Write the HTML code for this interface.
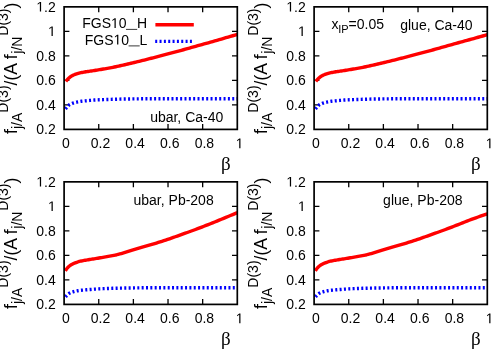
<!DOCTYPE html>
<html>
<head>
<meta charset="utf-8">
<title>Nuclear diffractive PDF ratios</title>
<style>
html, body { margin: 0; padding: 0; background: #ffffff; }
body { width: 500px; height: 349px; overflow: hidden; font-family: "Liberation Sans", sans-serif; }
svg { display: block; will-change: transform; }
</style>
</head>
<body>
<svg width="500" height="349" viewBox="0 0 500 349">
<rect x="0" y="0" width="500" height="349" fill="#ffffff"/>
<g transform="translate(0,0)">
<path d="M98.74,129.4v-5.3M98.74,6.85v5.3M133.38,129.4v-5.3M133.38,6.85v5.3M168.02,129.4v-5.3M168.02,6.85v5.3M202.66,129.4v-5.3M202.66,6.85v5.3M64.1,104.89h5.3M237.3,104.89h-5.3M64.1,80.38h5.3M237.3,80.38h-5.3M64.1,55.87h5.3M237.3,55.87h-5.3M64.1,31.36h5.3M237.3,31.36h-5.3" fill="none" stroke="#000" stroke-width="1.3"/>
<path d="M65.90,81.40 L65.98,81.29 L66.15,81.07 L66.37,80.78 L66.65,80.43 L66.98,80.03 L67.34,79.60 L67.74,79.16 L68.18,78.70 L68.65,78.26 L69.16,77.81 L69.70,77.37 L70.26,76.92 L70.86,76.50 L71.48,76.09 L72.14,75.73 L72.81,75.38 L73.52,75.05 L74.25,74.72 L75.00,74.41 L75.78,74.11 L76.58,73.83 L77.41,73.57 L78.26,73.33 L79.13,73.10 L80.02,72.89 L80.93,72.69 L81.87,72.50 L82.83,72.31 L83.80,72.13 L84.80,71.96 L85.82,71.80 L86.86,71.65 L87.92,71.50 L88.99,71.35 L90.09,71.19 L91.21,71.01 L92.34,70.84 L93.49,70.65 L94.66,70.47 L95.85,70.28 L97.06,70.08 L98.28,69.88 L99.53,69.68 L100.79,69.47 L102.06,69.26 L103.36,69.05 L104.67,68.83 L106.00,68.61 L107.34,68.38 L108.70,68.14 L110.08,67.88 L111.48,67.62 L112.89,67.33 L114.31,67.04 L115.76,66.73 L117.21,66.41 L118.69,66.09 L120.18,65.76 L121.68,65.43 L123.20,65.08 L124.74,64.73 L126.29,64.37 L127.86,64.00 L129.44,63.63 L131.03,63.26 L132.64,62.88 L134.27,62.49 L135.91,62.09 L137.56,61.69 L139.23,61.29 L140.92,60.88 L142.61,60.46 L144.32,60.03 L146.05,59.60 L147.79,59.16 L149.54,58.72 L151.31,58.27 L153.09,57.82 L154.89,57.36 L156.70,56.90 L158.52,56.43 L160.36,55.96 L162.21,55.47 L164.07,54.98 L165.95,54.48 L167.84,53.98 L169.74,53.47 L171.66,52.96 L173.59,52.44 L175.53,51.92 L177.48,51.39 L179.45,50.85 L181.43,50.30 L183.43,49.75 L185.43,49.18 L187.45,48.62 L189.49,48.04 L191.53,47.47 L193.59,46.90 L195.66,46.32 L197.74,45.73 L199.84,45.15 L201.94,44.56 L204.06,43.97 L206.19,43.37 L208.34,42.77 L210.49,42.16 L212.66,41.55 L214.84,40.93 L217.03,40.30 L219.24,39.67 L221.46,39.03 L223.68,38.39 L225.92,37.74 L228.18,37.08 L230.44,36.42 L232.71,35.75 L235.00,35.08 L237.30,34.40" fill="none" stroke="#ff0000" stroke-width="3.4" stroke-linejoin="round"/>
<path d="M65.40,108.90 L65.48,108.81 L65.65,108.62 L65.88,108.36 L66.15,108.05 L66.48,107.68 L66.84,107.25 L67.25,106.77 L67.69,106.25 L68.16,105.75 L68.67,105.30 L69.21,104.92 L69.78,104.57 L70.37,104.24 L71.00,103.93 L71.65,103.64 L72.33,103.37 L73.04,103.12 L73.77,102.88 L74.53,102.65 L75.31,102.44 L76.11,102.24 L76.94,102.05 L77.79,101.88 L78.67,101.71 L79.56,101.55 L80.48,101.41 L81.42,101.27 L82.38,101.15 L83.36,101.04 L84.36,100.94 L85.38,100.84 L86.42,100.74 L87.48,100.63 L88.56,100.53 L89.66,100.43 L90.78,100.33 L91.92,100.24 L93.07,100.14 L94.25,100.06 L95.44,99.99 L96.65,99.92 L97.88,99.86 L99.12,99.80 L100.39,99.75 L101.67,99.70 L102.97,99.64 L104.28,99.59 L105.61,99.55 L106.96,99.50 L108.33,99.45 L109.71,99.41 L111.11,99.37 L112.52,99.32 L113.95,99.28 L115.40,99.23 L116.86,99.19 L118.34,99.15 L119.84,99.11 L121.35,99.07 L122.87,99.04 L124.41,99.01 L125.97,98.99 L127.54,98.96 L129.12,98.94 L130.72,98.92 L132.34,98.90 L133.97,98.88 L135.61,98.86 L137.27,98.85 L138.95,98.83 L140.63,98.81 L142.34,98.80 L144.05,98.79 L145.78,98.78 L147.53,98.77 L149.29,98.76 L151.06,98.75 L152.85,98.75 L154.65,98.74 L156.46,98.74 L158.29,98.73 L160.13,98.73 L161.99,98.72 L163.86,98.72 L165.74,98.71 L167.63,98.71 L169.54,98.71 L171.47,98.71 L173.40,98.70 L175.35,98.70 L177.31,98.70 L179.28,98.70 L181.27,98.70 L183.27,98.70 L185.28,98.70 L187.31,98.70 L189.35,98.70 L191.40,98.70 L193.46,98.70 L195.54,98.70 L197.63,98.70 L199.73,98.70 L201.84,98.70 L203.97,98.70 L206.10,98.70 L208.25,98.70 L210.42,98.70 L212.59,98.70 L214.78,98.70 L216.98,98.70 L219.19,98.70 L221.41,98.70 L223.64,98.70 L225.89,98.70 L228.15,98.70 L230.42,98.70 L232.70,98.70 L234.99,98.70 L237.30,98.70" fill="none" stroke="#0000ff" stroke-width="3.4" stroke-dasharray="2.0 2.34" stroke-linejoin="round"/>
<rect x="64.1" y="6.85" width="173.20" height="122.55" fill="none" stroke="#000" stroke-width="1.7"/>
<g font-family="Liberation Sans, sans-serif" font-size="14.0" fill="#000">
<text x="65.80" y="148.20" text-anchor="middle">0</text>
<text x="100.44" y="148.20" text-anchor="middle">0.2</text>
<text x="135.08" y="148.20" text-anchor="middle">0.4</text>
<text x="169.72" y="148.20" text-anchor="middle">0.6</text>
<text x="204.36" y="148.20" text-anchor="middle">0.8</text>
<polygon points="239.23,148.20 239.23,139.74 237.05,141.30 237.05,140.13 239.33,138.57 240.46,138.57 240.46,148.20"/>
<text x="55.80" y="134.10" text-anchor="end">0.2</text>
<text x="55.80" y="109.59" text-anchor="end">0.4</text>
<text x="55.80" y="85.08" text-anchor="end">0.6</text>
<text x="55.80" y="60.57" text-anchor="end">0.8</text>
<polygon points="51.53,36.06 51.53,27.60 49.36,29.16 49.36,27.99 51.64,26.43 52.77,26.43 52.77,36.06"/>
<polygon points="39.86,11.55 39.86,3.09 37.68,4.65 37.68,3.48 39.96,1.92 41.10,1.92 41.10,11.55"/><text x="44.12" y="11.55">.2</text>
<text x="223.3" y="121.6" text-anchor="end">ubar, Ca-40</text>
<text x="82.20" y="28.00">FGS</text><polygon points="114.50,28.00 114.50,19.54 112.33,21.10 112.33,19.93 114.60,18.37 115.74,18.37 115.74,28.00"/><text x="118.77" y="28.00">0</text><text x="136.9" y="28.0">H</text>
<text x="84.80" y="44.50">FGS</text><polygon points="117.10,44.50 117.10,36.04 114.93,37.60 114.93,36.43 117.20,34.87 118.34,34.87 118.34,44.50"/><text x="121.37" y="44.50">0</text><text x="139.6" y="44.5">L</text>
<path d="M126,29.4H137.2M128.6,45.9H139.7" stroke="#222" stroke-width="0.9" fill="none"/>
</g>
<path d="M155.4,24.7H193.8" stroke="#ff0000" stroke-width="3.4" fill="none"/>
<path d="M155.2,41.4H193" stroke="#0000ff" stroke-width="3.4" stroke-dasharray="2.0 2.34" fill="none"/>
<text x="225.8" y="169.6" text-anchor="middle" font-family="Liberation Serif, serif" font-size="19" fill="#000">&#946;</text>
<g transform="translate(0,133.9) rotate(-90)" font-family="Liberation Sans, sans-serif" fill="#000">
<text x="0" y="0" font-size="17.5"><tspan y="17.0">f</tspan><tspan y="22.0" font-size="14.0">j/A</tspan><tspan y="7.5" font-size="14.0">D(3)</tspan><tspan y="17.0">/(A f</tspan><tspan y="22.0" font-size="14.0" dx="0.7">j/N</tspan><tspan y="7.5" font-size="14.0" dx="0.8">D(3)</tspan><tspan y="17.0">)</tspan></text>
</g>
</g>
<g transform="translate(250,0)">
<path d="M98.74,129.4v-5.3M98.74,6.85v5.3M133.38,129.4v-5.3M133.38,6.85v5.3M168.02,129.4v-5.3M168.02,6.85v5.3M202.66,129.4v-5.3M202.66,6.85v5.3M64.1,104.89h5.3M237.3,104.89h-5.3M64.1,80.38h5.3M237.3,80.38h-5.3M64.1,55.87h5.3M237.3,55.87h-5.3M64.1,31.36h5.3M237.3,31.36h-5.3" fill="none" stroke="#000" stroke-width="1.3"/>
<path d="M65.90,81.40 L65.98,81.29 L66.15,81.07 L66.37,80.78 L66.65,80.43 L66.98,80.03 L67.34,79.60 L67.74,79.16 L68.18,78.70 L68.65,78.26 L69.16,77.81 L69.70,77.37 L70.26,76.92 L70.86,76.50 L71.48,76.09 L72.14,75.73 L72.81,75.38 L73.52,75.05 L74.25,74.72 L75.00,74.41 L75.78,74.11 L76.58,73.83 L77.41,73.57 L78.26,73.33 L79.13,73.10 L80.02,72.89 L80.93,72.69 L81.87,72.50 L82.83,72.31 L83.80,72.13 L84.80,71.96 L85.82,71.80 L86.86,71.65 L87.92,71.50 L88.99,71.35 L90.09,71.19 L91.21,71.01 L92.34,70.84 L93.49,70.65 L94.66,70.47 L95.85,70.28 L97.06,70.08 L98.28,69.88 L99.53,69.68 L100.79,69.47 L102.06,69.26 L103.36,69.05 L104.67,68.83 L106.00,68.61 L107.34,68.38 L108.70,68.14 L110.08,67.88 L111.48,67.62 L112.89,67.33 L114.31,67.04 L115.76,66.73 L117.21,66.41 L118.69,66.09 L120.18,65.76 L121.68,65.43 L123.20,65.08 L124.74,64.73 L126.29,64.37 L127.86,64.00 L129.44,63.63 L131.03,63.26 L132.64,62.88 L134.27,62.49 L135.91,62.09 L137.56,61.69 L139.23,61.29 L140.92,60.88 L142.61,60.46 L144.32,60.03 L146.05,59.60 L147.79,59.16 L149.54,58.72 L151.31,58.27 L153.09,57.82 L154.89,57.36 L156.70,56.90 L158.52,56.43 L160.36,55.96 L162.21,55.47 L164.07,54.98 L165.95,54.48 L167.84,53.98 L169.74,53.47 L171.66,52.96 L173.59,52.44 L175.53,51.92 L177.48,51.39 L179.45,50.85 L181.43,50.30 L183.43,49.75 L185.43,49.18 L187.45,48.62 L189.49,48.04 L191.53,47.47 L193.59,46.90 L195.66,46.32 L197.74,45.73 L199.84,45.15 L201.94,44.56 L204.06,43.96 L206.19,43.36 L208.34,42.76 L210.49,42.16 L212.66,41.57 L214.84,40.97 L217.03,40.37 L219.24,39.76 L221.46,39.15 L223.68,38.52 L225.92,37.89 L228.18,37.26 L230.44,36.63 L232.71,35.99 L235.00,35.35 L237.30,34.70" fill="none" stroke="#ff0000" stroke-width="3.4" stroke-linejoin="round"/>
<path d="M65.40,108.90 L65.48,108.81 L65.65,108.62 L65.88,108.36 L66.15,108.05 L66.48,107.68 L66.84,107.25 L67.25,106.77 L67.69,106.25 L68.16,105.75 L68.67,105.30 L69.21,104.92 L69.78,104.57 L70.37,104.24 L71.00,103.93 L71.65,103.64 L72.33,103.37 L73.04,103.12 L73.77,102.88 L74.53,102.65 L75.31,102.44 L76.11,102.24 L76.94,102.05 L77.79,101.88 L78.67,101.71 L79.56,101.55 L80.48,101.41 L81.42,101.27 L82.38,101.15 L83.36,101.04 L84.36,100.94 L85.38,100.84 L86.42,100.74 L87.48,100.63 L88.56,100.53 L89.66,100.43 L90.78,100.33 L91.92,100.24 L93.07,100.14 L94.25,100.06 L95.44,99.99 L96.65,99.92 L97.88,99.86 L99.12,99.80 L100.39,99.75 L101.67,99.70 L102.97,99.64 L104.28,99.59 L105.61,99.55 L106.96,99.50 L108.33,99.45 L109.71,99.41 L111.11,99.37 L112.52,99.32 L113.95,99.28 L115.40,99.23 L116.86,99.19 L118.34,99.15 L119.84,99.11 L121.35,99.07 L122.87,99.04 L124.41,99.01 L125.97,98.99 L127.54,98.96 L129.12,98.94 L130.72,98.92 L132.34,98.90 L133.97,98.88 L135.61,98.86 L137.27,98.85 L138.95,98.83 L140.63,98.81 L142.34,98.80 L144.05,98.79 L145.78,98.78 L147.53,98.77 L149.29,98.76 L151.06,98.75 L152.85,98.75 L154.65,98.74 L156.46,98.74 L158.29,98.73 L160.13,98.73 L161.99,98.72 L163.86,98.72 L165.74,98.71 L167.63,98.71 L169.54,98.71 L171.47,98.71 L173.40,98.70 L175.35,98.70 L177.31,98.70 L179.28,98.70 L181.27,98.70 L183.27,98.70 L185.28,98.70 L187.31,98.70 L189.35,98.70 L191.40,98.70 L193.46,98.70 L195.54,98.70 L197.63,98.70 L199.73,98.70 L201.84,98.70 L203.97,98.70 L206.10,98.70 L208.25,98.70 L210.42,98.70 L212.59,98.70 L214.78,98.70 L216.98,98.70 L219.19,98.70 L221.41,98.70 L223.64,98.70 L225.89,98.70 L228.15,98.70 L230.42,98.70 L232.70,98.70 L234.99,98.70 L237.30,98.70" fill="none" stroke="#0000ff" stroke-width="3.4" stroke-dasharray="2.0 2.34" stroke-linejoin="round"/>
<rect x="64.1" y="6.85" width="173.20" height="122.55" fill="none" stroke="#000" stroke-width="1.7"/>
<g font-family="Liberation Sans, sans-serif" font-size="14.0" fill="#000">
<text x="65.80" y="148.20" text-anchor="middle">0</text>
<text x="100.44" y="148.20" text-anchor="middle">0.2</text>
<text x="135.08" y="148.20" text-anchor="middle">0.4</text>
<text x="169.72" y="148.20" text-anchor="middle">0.6</text>
<text x="204.36" y="148.20" text-anchor="middle">0.8</text>
<polygon points="239.23,148.20 239.23,139.74 237.05,141.30 237.05,140.13 239.33,138.57 240.46,138.57 240.46,148.20"/>
<text x="55.80" y="134.10" text-anchor="end">0.2</text>
<text x="55.80" y="109.59" text-anchor="end">0.4</text>
<text x="55.80" y="85.08" text-anchor="end">0.6</text>
<text x="55.80" y="60.57" text-anchor="end">0.8</text>
<polygon points="51.53,36.06 51.53,27.60 49.36,29.16 49.36,27.99 51.64,26.43 52.77,26.43 52.77,36.06"/>
<polygon points="39.86,11.55 39.86,3.09 37.68,4.65 37.68,3.48 39.96,1.92 41.10,1.92 41.10,11.55"/><text x="44.12" y="11.55">.2</text>
<text x="81.6" y="29.2">x<tspan font-size="11" dy="3.4" dx="-0.4">IP</tspan><tspan dy="-3.4" dx="-0.2">=</tspan><tspan dx="0.15">0.05</tspan></text>
<text x="222.6" y="29.6" text-anchor="end">glue, Ca-40</text>
</g>
<text x="225.8" y="169.6" text-anchor="middle" font-family="Liberation Serif, serif" font-size="19" fill="#000">&#946;</text>
<g transform="translate(0,133.9) rotate(-90)" font-family="Liberation Sans, sans-serif" fill="#000">
<text x="0" y="0" font-size="17.5"><tspan y="17.0">f</tspan><tspan y="22.0" font-size="14.0">j/A</tspan><tspan y="7.5" font-size="14.0">D(3)</tspan><tspan y="17.0">/(A f</tspan><tspan y="22.0" font-size="14.0" dx="0.7">j/N</tspan><tspan y="7.5" font-size="14.0" dx="0.8">D(3)</tspan><tspan y="17.0">)</tspan></text>
</g>
</g>
<g transform="translate(0,175)">
<path d="M98.74,129.4v-5.3M98.74,6.85v5.3M133.38,129.4v-5.3M133.38,6.85v5.3M168.02,129.4v-5.3M168.02,6.85v5.3M202.66,129.4v-5.3M202.66,6.85v5.3M64.1,104.89h5.3M237.3,104.89h-5.3M64.1,80.38h5.3M237.3,80.38h-5.3M64.1,55.87h5.3M237.3,55.87h-5.3M64.1,31.36h5.3M237.3,31.36h-5.3" fill="none" stroke="#000" stroke-width="1.3"/>
<path d="M65.30,95.90 L65.38,95.77 L65.55,95.52 L65.78,95.17 L66.06,94.76 L66.38,94.30 L66.74,93.80 L67.15,93.28 L67.59,92.75 L68.06,92.23 L68.57,91.74 L69.11,91.26 L69.68,90.80 L70.28,90.36 L70.90,89.94 L71.56,89.55 L72.24,89.17 L72.94,88.83 L73.68,88.50 L74.43,88.19 L75.22,87.89 L76.02,87.59 L76.85,87.29 L77.70,86.99 L78.57,86.70 L79.47,86.44 L80.39,86.21 L81.33,86.00 L82.29,85.80 L83.27,85.61 L84.27,85.43 L85.29,85.25 L86.33,85.08 L87.39,84.90 L88.47,84.72 L89.58,84.54 L90.69,84.37 L91.83,84.19 L92.99,84.02 L94.16,83.83 L95.36,83.64 L96.57,83.44 L97.80,83.23 L99.04,83.01 L100.31,82.80 L101.59,82.58 L102.89,82.36 L104.21,82.13 L105.54,81.90 L106.89,81.67 L108.25,81.42 L109.64,81.17 L111.04,80.90 L112.45,80.63 L113.88,80.34 L115.33,80.04 L116.79,79.72 L118.27,79.36 L119.77,78.97 L121.28,78.55 L122.80,78.10 L124.34,77.64 L125.90,77.18 L127.47,76.69 L129.06,76.19 L130.66,75.68 L132.28,75.17 L133.91,74.67 L135.55,74.17 L137.21,73.67 L138.89,73.18 L140.58,72.68 L142.28,72.19 L144.00,71.71 L145.73,71.23 L147.48,70.73 L149.24,70.22 L151.01,69.70 L152.80,69.16 L154.60,68.60 L156.42,68.04 L158.25,67.46 L160.09,66.87 L161.94,66.27 L163.81,65.67 L165.70,65.04 L167.59,64.41 L169.50,63.77 L171.43,63.11 L173.36,62.44 L175.31,61.76 L177.27,61.07 L179.25,60.37 L181.24,59.66 L183.24,58.94 L185.25,58.22 L187.28,57.49 L189.32,56.75 L191.37,56.00 L193.44,55.24 L195.51,54.48 L197.60,53.70 L199.70,52.91 L201.82,52.11 L203.95,51.28 L206.08,50.45 L208.24,49.60 L210.40,48.74 L212.58,47.87 L214.76,46.99 L216.96,46.09 L219.18,45.19 L221.40,44.28 L223.64,43.35 L225.88,42.42 L228.14,41.48 L230.41,40.53 L232.70,39.56 L234.99,38.59 L237.30,37.60" fill="none" stroke="#ff0000" stroke-width="3.4" stroke-linejoin="round"/>
<path d="M65.50,121.90 L65.58,121.80 L65.75,121.61 L65.98,121.35 L66.25,121.05 L66.58,120.72 L66.94,120.37 L67.35,119.97 L67.79,119.56 L68.26,119.13 L68.77,118.71 L69.31,118.33 L69.87,118.01 L70.47,117.72 L71.10,117.45 L71.75,117.20 L72.43,116.97 L73.14,116.76 L73.87,116.56 L74.62,116.36 L75.40,116.19 L76.21,116.02 L77.04,115.86 L77.89,115.72 L78.76,115.58 L79.65,115.46 L80.57,115.35 L81.51,115.24 L82.47,115.13 L83.45,115.03 L84.45,114.93 L85.47,114.84 L86.51,114.76 L87.57,114.68 L88.65,114.61 L89.75,114.54 L90.86,114.46 L92.00,114.37 L93.16,114.27 L94.33,114.17 L95.52,114.08 L96.73,114.00 L97.96,113.93 L99.21,113.86 L100.47,113.80 L101.75,113.73 L103.05,113.67 L104.36,113.61 L105.69,113.56 L107.04,113.50 L108.40,113.45 L109.79,113.41 L111.18,113.36 L112.60,113.32 L114.03,113.28 L115.47,113.25 L116.93,113.21 L118.41,113.18 L119.90,113.14 L121.41,113.11 L122.94,113.08 L124.48,113.06 L126.03,113.03 L127.60,113.01 L129.18,112.98 L130.78,112.96 L132.40,112.94 L134.03,112.91 L135.67,112.89 L137.33,112.87 L139.00,112.85 L140.69,112.83 L142.39,112.81 L144.11,112.79 L145.84,112.78 L147.58,112.77 L149.34,112.76 L151.11,112.75 L152.90,112.74 L154.70,112.74 L156.51,112.73 L158.34,112.73 L160.18,112.73 L162.03,112.72 L163.90,112.72 L165.78,112.71 L167.68,112.71 L169.58,112.71 L171.50,112.71 L173.44,112.70 L175.38,112.70 L177.34,112.70 L179.32,112.70 L181.30,112.70 L183.30,112.70 L185.31,112.70 L187.34,112.70 L189.37,112.70 L191.42,112.70 L193.49,112.70 L195.56,112.70 L197.65,112.70 L199.75,112.70 L201.86,112.70 L203.98,112.70 L206.12,112.70 L208.27,112.70 L210.43,112.70 L212.60,112.70 L214.79,112.70 L216.99,112.70 L219.20,112.70 L221.42,112.70 L223.65,112.70 L225.90,112.70 L228.15,112.70 L230.42,112.70 L232.70,112.70 L235.00,112.70 L237.30,112.70" fill="none" stroke="#0000ff" stroke-width="3.4" stroke-dasharray="2.0 2.34" stroke-linejoin="round"/>
<rect x="64.1" y="6.85" width="173.20" height="122.55" fill="none" stroke="#000" stroke-width="1.7"/>
<g font-family="Liberation Sans, sans-serif" font-size="14.0" fill="#000">
<text x="65.80" y="148.20" text-anchor="middle">0</text>
<text x="100.44" y="148.20" text-anchor="middle">0.2</text>
<text x="135.08" y="148.20" text-anchor="middle">0.4</text>
<text x="169.72" y="148.20" text-anchor="middle">0.6</text>
<text x="204.36" y="148.20" text-anchor="middle">0.8</text>
<polygon points="239.23,148.20 239.23,139.74 237.05,141.30 237.05,140.13 239.33,138.57 240.46,138.57 240.46,148.20"/>
<text x="55.80" y="134.10" text-anchor="end">0.2</text>
<text x="55.80" y="109.59" text-anchor="end">0.4</text>
<text x="55.80" y="85.08" text-anchor="end">0.6</text>
<text x="55.80" y="60.57" text-anchor="end">0.8</text>
<polygon points="51.53,36.06 51.53,27.60 49.36,29.16 49.36,27.99 51.64,26.43 52.77,26.43 52.77,36.06"/>
<polygon points="39.86,11.55 39.86,3.09 37.68,4.65 37.68,3.48 39.96,1.92 41.10,1.92 41.10,11.55"/><text x="44.12" y="11.55">.2</text>
<text x="213.7" y="30.0" text-anchor="end">ubar, Pb-208</text>
</g>
<text x="225.8" y="169.6" text-anchor="middle" font-family="Liberation Serif, serif" font-size="19" fill="#000">&#946;</text>
<g transform="translate(0,133.9) rotate(-90)" font-family="Liberation Sans, sans-serif" fill="#000">
<text x="0" y="0" font-size="17.5"><tspan y="17.0">f</tspan><tspan y="22.0" font-size="14.0">j/A</tspan><tspan y="7.5" font-size="14.0">D(3)</tspan><tspan y="17.0">/(A f</tspan><tspan y="22.0" font-size="14.0" dx="0.7">j/N</tspan><tspan y="7.5" font-size="14.0" dx="0.8">D(3)</tspan><tspan y="17.0">)</tspan></text>
</g>
</g>
<g transform="translate(250,175)">
<path d="M98.74,129.4v-5.3M98.74,6.85v5.3M133.38,129.4v-5.3M133.38,6.85v5.3M168.02,129.4v-5.3M168.02,6.85v5.3M202.66,129.4v-5.3M202.66,6.85v5.3M64.1,104.89h5.3M237.3,104.89h-5.3M64.1,80.38h5.3M237.3,80.38h-5.3M64.1,55.87h5.3M237.3,55.87h-5.3M64.1,31.36h5.3M237.3,31.36h-5.3" fill="none" stroke="#000" stroke-width="1.3"/>
<path d="M65.30,95.90 L65.38,95.77 L65.55,95.52 L65.78,95.17 L66.06,94.76 L66.38,94.30 L66.74,93.80 L67.15,93.28 L67.59,92.75 L68.06,92.23 L68.57,91.74 L69.11,91.26 L69.68,90.80 L70.28,90.36 L70.90,89.94 L71.56,89.55 L72.24,89.17 L72.94,88.83 L73.68,88.50 L74.43,88.19 L75.22,87.89 L76.02,87.59 L76.85,87.29 L77.70,86.99 L78.57,86.70 L79.47,86.44 L80.39,86.21 L81.33,86.00 L82.29,85.80 L83.27,85.61 L84.27,85.43 L85.29,85.25 L86.33,85.08 L87.39,84.90 L88.47,84.72 L89.58,84.54 L90.69,84.37 L91.83,84.19 L92.99,84.02 L94.16,83.83 L95.36,83.64 L96.57,83.44 L97.80,83.23 L99.04,83.01 L100.31,82.80 L101.59,82.58 L102.89,82.36 L104.21,82.13 L105.54,81.90 L106.89,81.67 L108.25,81.42 L109.64,81.17 L111.04,80.90 L112.45,80.63 L113.88,80.34 L115.33,80.04 L116.79,79.72 L118.27,79.36 L119.77,78.97 L121.28,78.55 L122.80,78.10 L124.34,77.64 L125.90,77.18 L127.47,76.69 L129.06,76.19 L130.66,75.68 L132.28,75.17 L133.91,74.67 L135.55,74.17 L137.21,73.67 L138.89,73.18 L140.58,72.68 L142.28,72.19 L144.00,71.71 L145.73,71.23 L147.48,70.73 L149.24,70.22 L151.01,69.70 L152.80,69.16 L154.60,68.60 L156.42,68.04 L158.25,67.46 L160.09,66.87 L161.94,66.27 L163.81,65.67 L165.70,65.04 L167.59,64.41 L169.50,63.77 L171.43,63.11 L173.36,62.44 L175.31,61.76 L177.27,61.07 L179.25,60.37 L181.24,59.66 L183.24,58.94 L185.25,58.22 L187.28,57.49 L189.32,56.75 L191.37,56.00 L193.44,55.24 L195.51,54.48 L197.60,53.70 L199.70,52.91 L201.82,52.10 L203.95,51.28 L206.08,50.44 L208.24,49.59 L210.40,48.74 L212.58,47.88 L214.76,47.00 L216.96,46.12 L219.18,45.26 L221.40,44.43 L223.64,43.61 L225.88,42.80 L228.14,42.00 L230.41,41.21 L232.70,40.43 L234.99,39.66 L237.30,38.90" fill="none" stroke="#ff0000" stroke-width="3.4" stroke-linejoin="round"/>
<path d="M65.50,121.90 L65.58,121.80 L65.75,121.61 L65.98,121.35 L66.25,121.05 L66.58,120.72 L66.94,120.37 L67.35,119.97 L67.79,119.56 L68.26,119.13 L68.77,118.71 L69.31,118.33 L69.87,118.01 L70.47,117.72 L71.10,117.45 L71.75,117.20 L72.43,116.97 L73.14,116.76 L73.87,116.56 L74.62,116.36 L75.40,116.19 L76.21,116.02 L77.04,115.86 L77.89,115.72 L78.76,115.58 L79.65,115.46 L80.57,115.35 L81.51,115.24 L82.47,115.13 L83.45,115.03 L84.45,114.93 L85.47,114.84 L86.51,114.76 L87.57,114.68 L88.65,114.61 L89.75,114.54 L90.86,114.46 L92.00,114.37 L93.16,114.27 L94.33,114.17 L95.52,114.08 L96.73,114.00 L97.96,113.93 L99.21,113.86 L100.47,113.80 L101.75,113.73 L103.05,113.67 L104.36,113.61 L105.69,113.56 L107.04,113.50 L108.40,113.45 L109.79,113.41 L111.18,113.36 L112.60,113.32 L114.03,113.28 L115.47,113.25 L116.93,113.21 L118.41,113.18 L119.90,113.14 L121.41,113.11 L122.94,113.08 L124.48,113.06 L126.03,113.03 L127.60,113.01 L129.18,112.98 L130.78,112.96 L132.40,112.94 L134.03,112.91 L135.67,112.89 L137.33,112.87 L139.00,112.85 L140.69,112.83 L142.39,112.81 L144.11,112.79 L145.84,112.78 L147.58,112.77 L149.34,112.76 L151.11,112.75 L152.90,112.74 L154.70,112.74 L156.51,112.73 L158.34,112.73 L160.18,112.73 L162.03,112.72 L163.90,112.72 L165.78,112.71 L167.68,112.71 L169.58,112.71 L171.50,112.71 L173.44,112.70 L175.38,112.70 L177.34,112.70 L179.32,112.70 L181.30,112.70 L183.30,112.70 L185.31,112.70 L187.34,112.70 L189.37,112.70 L191.42,112.70 L193.49,112.70 L195.56,112.70 L197.65,112.70 L199.75,112.70 L201.86,112.70 L203.98,112.70 L206.12,112.70 L208.27,112.70 L210.43,112.70 L212.60,112.70 L214.79,112.70 L216.99,112.70 L219.20,112.70 L221.42,112.70 L223.65,112.70 L225.90,112.70 L228.15,112.70 L230.42,112.70 L232.70,112.70 L235.00,112.70 L237.30,112.70" fill="none" stroke="#0000ff" stroke-width="3.4" stroke-dasharray="2.0 2.34" stroke-linejoin="round"/>
<rect x="64.1" y="6.85" width="173.20" height="122.55" fill="none" stroke="#000" stroke-width="1.7"/>
<g font-family="Liberation Sans, sans-serif" font-size="14.0" fill="#000">
<text x="65.80" y="148.20" text-anchor="middle">0</text>
<text x="100.44" y="148.20" text-anchor="middle">0.2</text>
<text x="135.08" y="148.20" text-anchor="middle">0.4</text>
<text x="169.72" y="148.20" text-anchor="middle">0.6</text>
<text x="204.36" y="148.20" text-anchor="middle">0.8</text>
<polygon points="239.23,148.20 239.23,139.74 237.05,141.30 237.05,140.13 239.33,138.57 240.46,138.57 240.46,148.20"/>
<text x="55.80" y="134.10" text-anchor="end">0.2</text>
<text x="55.80" y="109.59" text-anchor="end">0.4</text>
<text x="55.80" y="85.08" text-anchor="end">0.6</text>
<text x="55.80" y="60.57" text-anchor="end">0.8</text>
<polygon points="51.53,36.06 51.53,27.60 49.36,29.16 49.36,27.99 51.64,26.43 52.77,26.43 52.77,36.06"/>
<polygon points="39.86,11.55 39.86,3.09 37.68,4.65 37.68,3.48 39.96,1.92 41.10,1.92 41.10,11.55"/><text x="44.12" y="11.55">.2</text>
<text x="212.5" y="30.0" text-anchor="end">glue, Pb-208</text>
</g>
<text x="225.8" y="169.6" text-anchor="middle" font-family="Liberation Serif, serif" font-size="19" fill="#000">&#946;</text>
<g transform="translate(0,133.9) rotate(-90)" font-family="Liberation Sans, sans-serif" fill="#000">
<text x="0" y="0" font-size="17.5"><tspan y="17.0">f</tspan><tspan y="22.0" font-size="14.0">j/A</tspan><tspan y="7.5" font-size="14.0">D(3)</tspan><tspan y="17.0">/(A f</tspan><tspan y="22.0" font-size="14.0" dx="0.7">j/N</tspan><tspan y="7.5" font-size="14.0" dx="0.8">D(3)</tspan><tspan y="17.0">)</tspan></text>
</g>
</g>
</svg>
</body>
</html>
